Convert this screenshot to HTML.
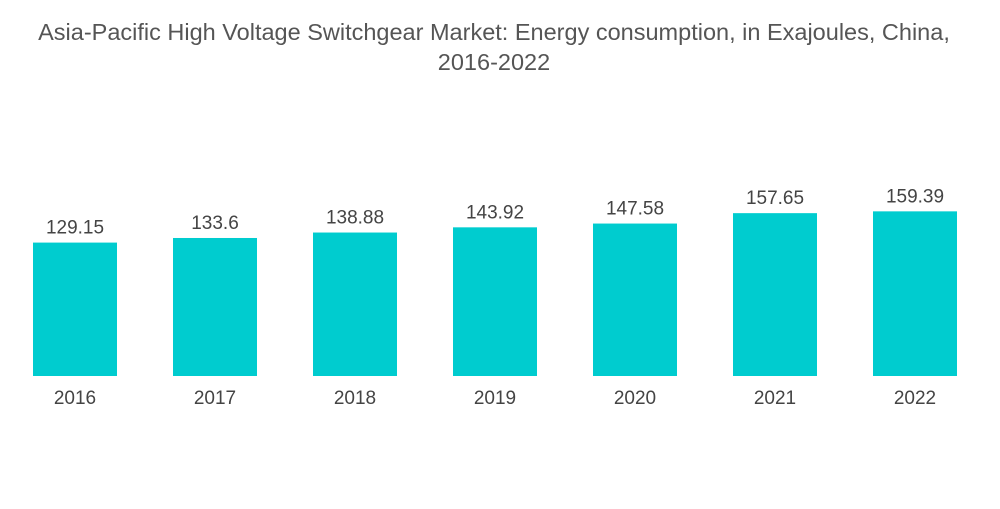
<!DOCTYPE html>
<html><head><meta charset="utf-8"><style>
body{margin:0;background:#fff;width:1000px;height:504px;overflow:hidden;font-family:"Liberation Sans",sans-serif}
</style></head><body>
<svg width="1000" height="504">
<text x="494" y="40" text-anchor="middle" font-size="23.5" fill="#555">Asia-Pacific High Voltage Switchgear Market: Energy consumption, in Exajoules, China,</text>
<text x="494" y="70" text-anchor="middle" font-size="23.5" fill="#555">2016-2022</text>
<g id="bars"></g>
</svg>
<script>
const categories=["2016","2017","2018","2019","2020","2021","2022"];
const values=[129.15,133.6,138.88,143.92,147.58,157.65,159.39];
const valueLabels=["129.15","133.6","138.88","143.92","147.58","157.65","159.39"];
const baseY=376, scale=1.033, x0=33, pitch=140, bw=84;
function xPos(i){return x0+i*pitch;}
function yPos(v){return baseY-v*scale;}
const g=document.getElementById('bars');
const ns="http://www.w3.org/2000/svg";
categories.forEach((c,i)=>{
  const r=document.createElementNS(ns,'rect');
  r.setAttribute('x',xPos(i));r.setAttribute('y',yPos(values[i]));
  r.setAttribute('width',bw);r.setAttribute('height',baseY-yPos(values[i]));
  r.setAttribute('fill','#00cccf');
  
  
  g.appendChild(r);
  const t=document.createElementNS(ns,'text');
  t.setAttribute('x',xPos(i)+bw/2);t.setAttribute('y',yPos(values[i])-9);
  t.setAttribute('text-anchor','middle');t.setAttribute('font-size','19');t.setAttribute('fill','#444');
  t.textContent=valueLabels[i];
  
  
  g.appendChild(t);
  const l=document.createElementNS(ns,'text');
  l.setAttribute('x',xPos(i)+bw/2);l.setAttribute('y',404);
  l.setAttribute('text-anchor','middle');l.setAttribute('font-size','19');l.setAttribute('fill','#444');
  l.textContent=c;
  
  
  g.appendChild(l);
});
</script>
</body></html>
